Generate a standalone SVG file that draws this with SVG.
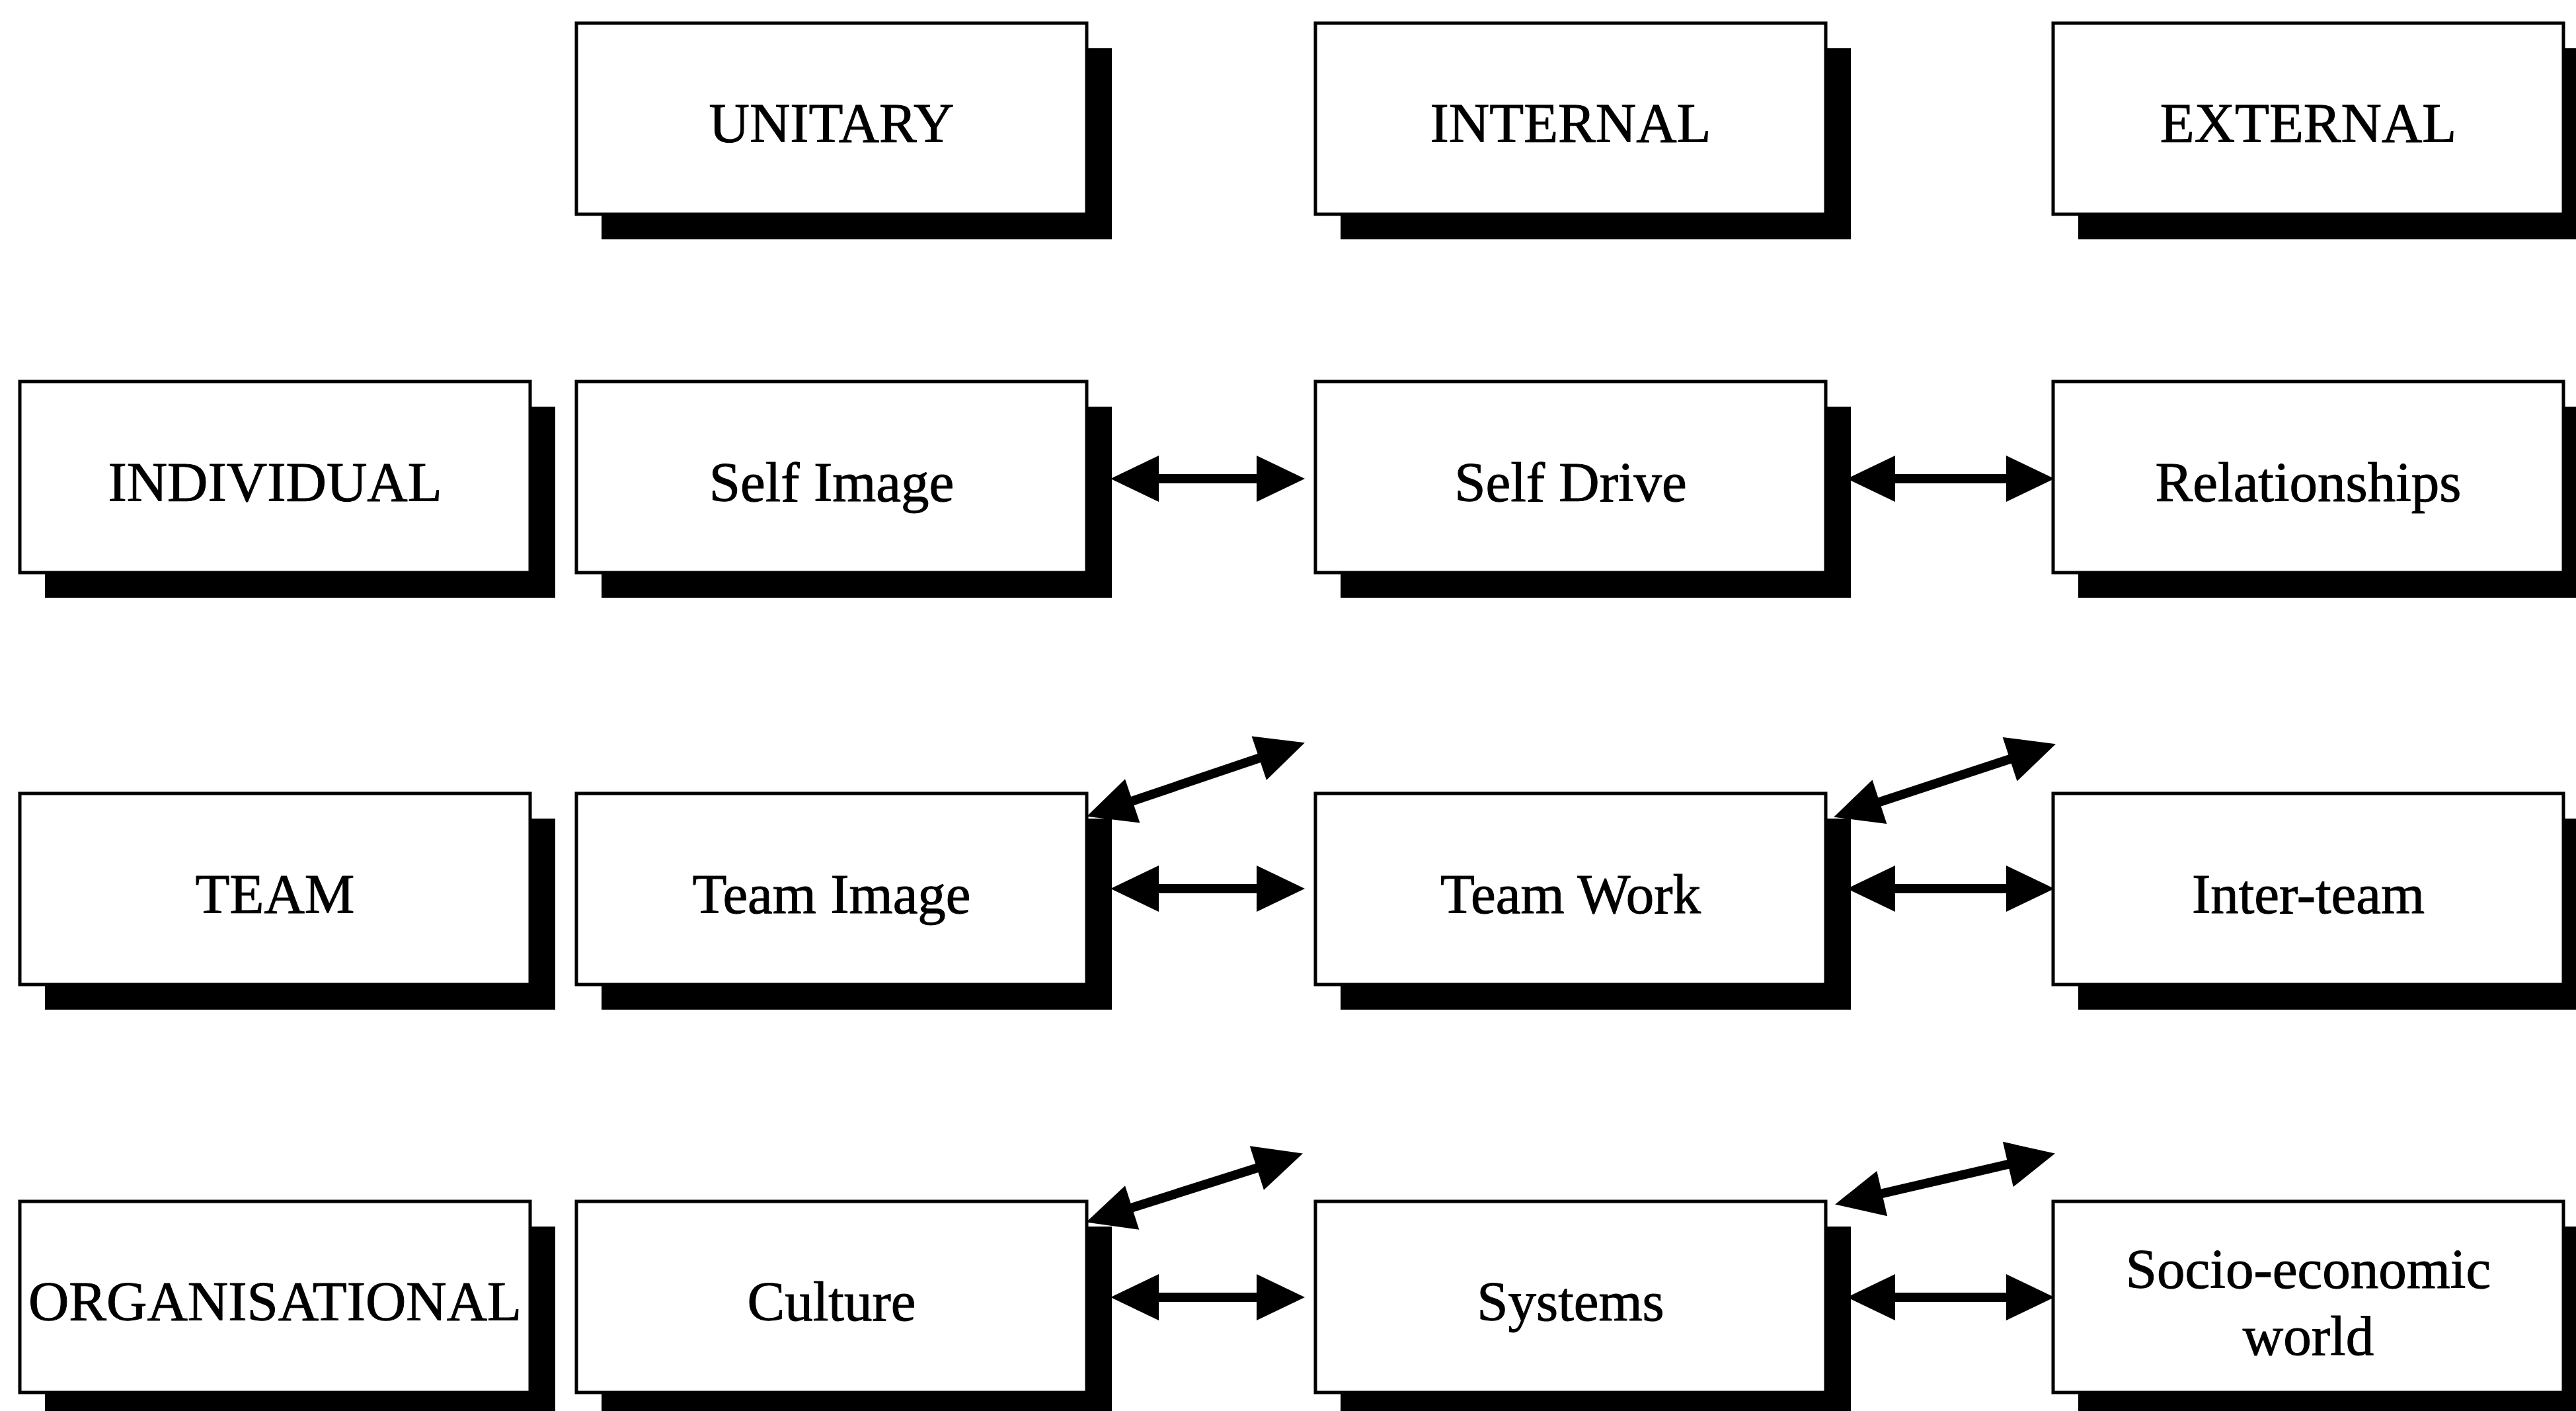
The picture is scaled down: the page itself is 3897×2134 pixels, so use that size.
<svg xmlns="http://www.w3.org/2000/svg" width="3897" height="2134" viewBox="0 0 3897 2134">
  <style>
    .shadow { fill: #000; }
    .box { fill: #fff; stroke: #000; stroke-width: 5; }
    .label { font-family: "Liberation Serif", "Times New Roman", serif; font-size: 85px; fill: #000; stroke: #000; stroke-width: 1; text-anchor: middle; }
    .link { stroke: #000; stroke-width: 14; fill: none; marker-start: url(#head); marker-end: url(#head); }
  </style>
  <defs>
    <!-- filled triangular head, base at the line end, pointing outward -->
    <marker id="head" markerUnits="userSpaceOnUse" markerWidth="80" markerHeight="80" viewBox="-4 -40 80 80" refX="0" refY="0" orient="auto-start-reverse" overflow="visible">
      <path d="M-3,-35 L70,0 L-3,35 Z" fill="#000"/>
    </marker>
  </defs>

  <!-- header row -->
  <g id="unitary">
    <rect class="shadow" x="910" y="73" width="772" height="289"/>
    <rect class="box" x="872" y="35" width="772" height="289"/>
    <text class="label" x="1258" y="215">UNITARY</text>
  </g>
  <g id="internal">
    <rect class="shadow" x="2028" y="73" width="772" height="289"/>
    <rect class="box" x="1990" y="35" width="772" height="289"/>
    <text class="label" x="2376" y="215">INTERNAL</text>
  </g>
  <g id="external">
    <rect class="shadow" x="3144" y="73" width="772" height="289"/>
    <rect class="box" x="3106" y="35" width="772" height="289"/>
    <text class="label" x="3492" y="215">EXTERNAL</text>
  </g>

  <!-- individual row -->
  <g id="individual">
    <rect class="shadow" x="68" y="615" width="772" height="289"/>
    <rect class="box" x="30" y="577" width="772" height="289"/>
    <text class="label" x="416" y="758">INDIVIDUAL</text>
  </g>
  <g id="self-image">
    <rect class="shadow" x="910" y="615" width="772" height="289"/>
    <rect class="box" x="872" y="577" width="772" height="289"/>
    <text class="label" x="1258" y="758">Self Image</text>
  </g>
  <g id="self-drive">
    <rect class="shadow" x="2028" y="615" width="772" height="289"/>
    <rect class="box" x="1990" y="577" width="772" height="289"/>
    <text class="label" x="2376" y="758">Self Drive</text>
  </g>
  <g id="relationships">
    <rect class="shadow" x="3144" y="615" width="772" height="289"/>
    <rect class="box" x="3106" y="577" width="772" height="289"/>
    <text class="label" x="3492" y="758">Relationships</text>
  </g>

  <!-- team row -->
  <g id="team">
    <rect class="shadow" x="68" y="1238" width="772" height="289"/>
    <rect class="box" x="30" y="1200" width="772" height="289"/>
    <text class="label" x="416" y="1381">TEAM</text>
  </g>
  <g id="team-image">
    <rect class="shadow" x="910" y="1238" width="772" height="289"/>
    <rect class="box" x="872" y="1200" width="772" height="289"/>
    <text class="label" x="1258" y="1381">Team Image</text>
  </g>
  <g id="team-work">
    <rect class="shadow" x="2028" y="1238" width="772" height="289"/>
    <rect class="box" x="1990" y="1200" width="772" height="289"/>
    <text class="label" x="2376" y="1381">Team Work</text>
  </g>
  <g id="inter-team">
    <rect class="shadow" x="3144" y="1238" width="772" height="289"/>
    <rect class="box" x="3106" y="1200" width="772" height="289"/>
    <text class="label" x="3492" y="1381">Inter-team</text>
  </g>

  <!-- organisational row -->
  <g id="organisational">
    <rect class="shadow" x="68" y="1855" width="772" height="289"/>
    <rect class="box" x="30" y="1817" width="772" height="289"/>
    <text class="label" x="416" y="1997">ORGANISATIONAL</text>
  </g>
  <g id="culture">
    <rect class="shadow" x="910" y="1855" width="772" height="289"/>
    <rect class="box" x="872" y="1817" width="772" height="289"/>
    <text class="label" x="1258" y="1997">Culture</text>
  </g>
  <g id="systems">
    <rect class="shadow" x="2028" y="1855" width="772" height="289"/>
    <rect class="box" x="1990" y="1817" width="772" height="289"/>
    <text class="label" x="2376" y="1997">Systems</text>
  </g>
  <g id="socio-economic-world">
    <rect class="shadow" x="3144" y="1855" width="772" height="289"/>
    <rect class="box" x="3106" y="1817" width="772" height="289"/>
    <text class="label" x="3492" y="1948">Socio-economic</text>
    <text class="label" x="3492" y="2049">world</text>
  </g>

  <!-- two-way links -->
  <g id="connectors">
    <line class="link" x1="1750" y1="724" x2="1904" y2="724"/>
    <line class="link" x1="2864" y1="724" x2="3038" y2="724"/>

    <line class="link" x1="1750" y1="1344" x2="1904" y2="1344"/>
    <line class="link" x1="2864" y1="1344" x2="3038" y2="1344"/>
    <line class="link" x1="1710.4" y1="1212.3" x2="1907.6" y2="1145.7"/>
    <line class="link" x1="2840.6" y1="1213.8" x2="3043.4" y2="1147.2"/>

    <line class="link" x1="1750" y1="1962" x2="1904" y2="1962"/>
    <line class="link" x1="2864" y1="1962" x2="3038" y2="1962"/>
    <line class="link" x1="1709.8" y1="1827.4" x2="1904.2" y2="1765.6"/>
    <line class="link" x1="2844.3" y1="1805.7" x2="3040.7" y2="1760.3"/>
  </g>
</svg>
